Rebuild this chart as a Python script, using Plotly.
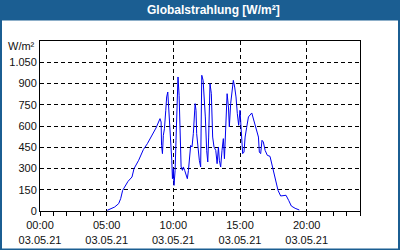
import plotly.graph_objects as go

DAY = "2021-05-03"
times = ["05:03","05:15","05:36","05:54","06:03","06:12","06:24","06:36","06:54","07:03",
         "07:24","07:45","08:03","08:24","08:42","09:00","09:05","09:07","09:11","09:15",
         "09:20","09:26","09:30","09:35","09:39","09:44","09:48","09:53","09:56","10:00",
         "10:03","10:08","10:12","10:17","10:21","10:26","10:30","10:35","10:41","10:45",
         "10:51","10:57","11:03","11:08","11:12","11:18","11:24","11:30","11:38","11:42",
         "11:45","11:53","11:57","12:03","12:08","12:14","12:18","12:24","12:30","12:35",
         "12:39","12:45","12:51","12:57","13:03","13:11","13:17","13:23","13:27","13:33",
         "13:39","13:45","13:50","13:56","14:02","14:08","14:12","14:18","14:24","14:30",
         "14:36","14:42","14:48","14:54","15:00","15:05","15:08","15:12","15:18","15:23",
         "15:30","15:38","15:53","16:08","16:23","16:27","16:33","16:39","16:45","16:53",
         "17:03","17:15","17:27","17:39","17:51","18:03","18:15","18:27","18:39","18:51",
         "19:08","19:27"]
values = [5,14,28,52,87,146,174,209,240,299,
          358,433,475,534,586,652,628,463,405,534,
          581,711,805,840,746,628,511,358,228,299,
          181,287,499,711,946,816,546,311,287,311,
          287,252,228,287,369,463,452,546,758,711,
          546,405,358,311,958,922,828,664,428,346,
          522,899,828,522,452,428,334,452,358,311,
          428,511,369,593,828,734,593,758,852,922,
          875,805,687,605,711,593,463,405,416,522,
          590,664,692,605,522,416,405,499,487,428,
          393,386,299,216,146,106,108,111,75,35,
          19,7]

y_ticks = [0,150,300,450,600,750,900,1050]
y_labels = ["0","150","300","450","600","750","900","1.050"]
x_ticks = ["00:00","05:00","10:00","15:00","20:00"]
x_date = "03.05.21"
title = "Globalstrahlung [W/m²]"
unit = "W/m²"

W, H = 400, 250
L, R, T, B = 40, 40, 41, 39
pw, ph = W - L - R, H - T - B

def px(x):
    return (x - L) / pw
def py(y):
    return (H - B - y) / ph

fig = go.Figure()
fig.add_trace(go.Scatter(
    x=[f"{DAY} {t}" for t in times], y=values, mode="lines",
    line=dict(color="#0000f0", width=1), line_shape="linear", showlegend=False))

fig.update_layout(
    width=W, height=H, margin=dict(l=L, r=R, t=T, b=B, autoexpand=False),
    paper_bgcolor="#1b5e92", plot_bgcolor="white",
    font=dict(family="Liberation Sans, Arial, sans-serif", size=11, color="#111"),
    shapes=[dict(type="rect", xref="paper", yref="paper", layer="below",
                 x0=px(2), x1=px(398), y0=py(248.5), y1=py(20.5),
                 fillcolor="white", line=dict(width=0))],
    annotations=[
        dict(text=f"<b>{title}</b>", xref="paper", yref="paper", x=px(213), y=py(10.5),
             xanchor="center", yanchor="middle", showarrow=False,
             font=dict(family="Liberation Sans, Arial, sans-serif", size=12, color="white")),
        dict(text=unit, xref="paper", yref="paper", x=px(37), y=py(46),
             xanchor="right", yanchor="middle", showarrow=False,
             font=dict(size=11, color="#111")),
    ],
)
fig.update_xaxes(
    type="date", range=[f"{DAY} 00:00", "2021-05-04 00:00"], automargin=False,
    tickvals=[f"{DAY} {t}" for t in x_ticks],
    ticktext=[f"{t}<br>{x_date}" for t in x_ticks],
    showgrid=True, gridcolor="black", griddash="4px,3px", gridwidth=1,
    showline=True, linecolor="black", linewidth=1, mirror=True,
    ticks="outside", ticklen=4, tickcolor="black",
    minor=dict(dtick=3600000, ticks="outside", ticklen=4, tickcolor="black", showgrid=False),
    zeroline=False, fixedrange=True,
)
fig.update_yaxes(
    range=[0, 1200], tickvals=y_ticks, ticktext=y_labels, automargin=False,
    showgrid=True, gridcolor="black", griddash="4px,3px", gridwidth=1,
    showline=True, linecolor="black", linewidth=1, mirror=True,
    ticks="", zeroline=False, fixedrange=True,
)
fig.write_html("out.html", config={"displayModeBar": False})
